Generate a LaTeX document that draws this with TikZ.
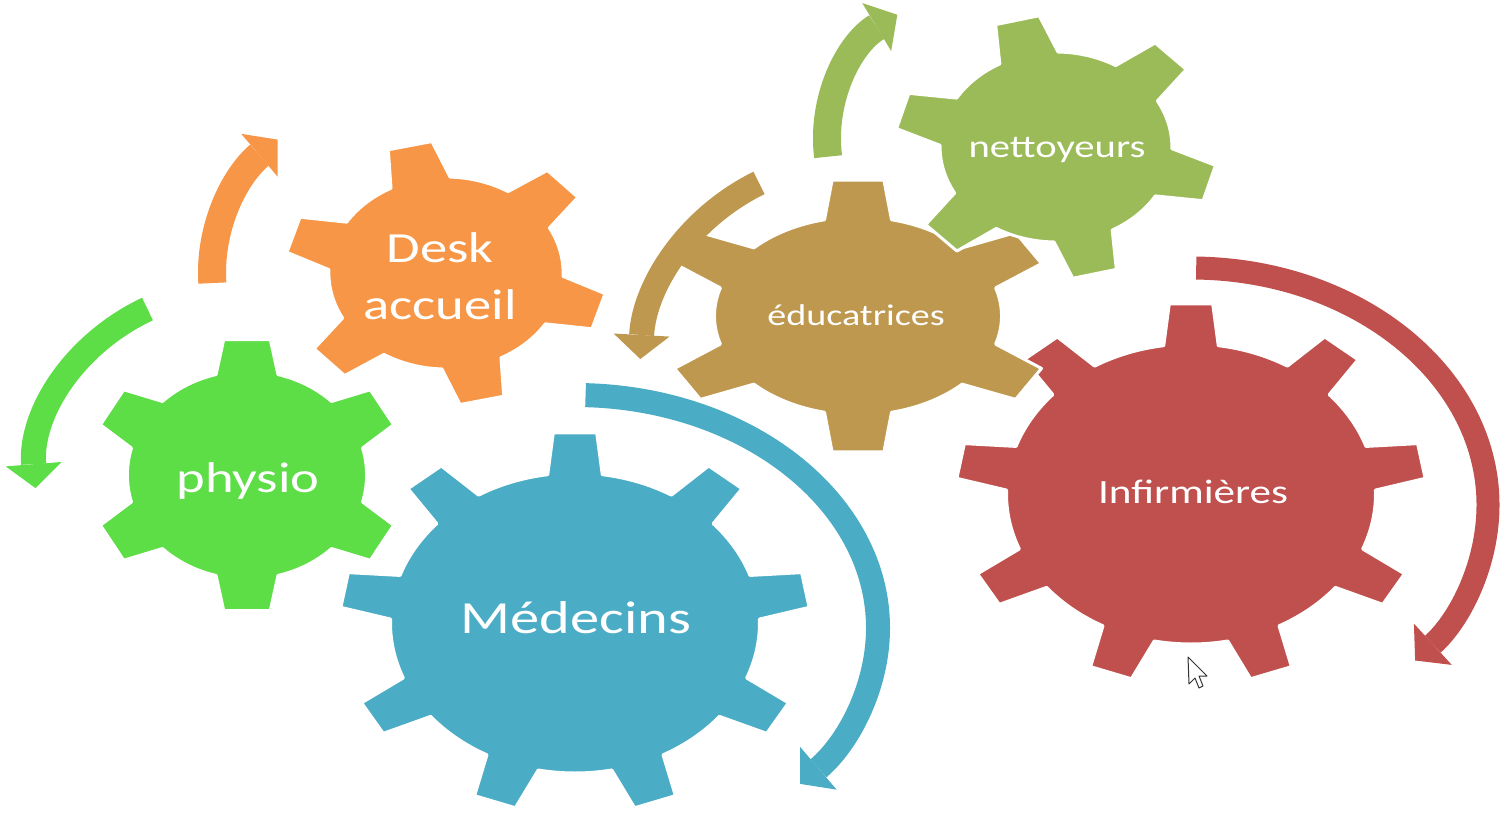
\documentclass[tikz,border=0pt]{standalone}
\usepackage{fontspec}
\setmainfont{Carlito}
\usepackage{graphicx}
\usetikzlibrary{arrows.meta}
\definecolor{cphysio}{RGB}{93,221,70}
\definecolor{cdesk}{RGB}{247,150,70}
\definecolor{cmed}{RGB}{75,172,198}
\definecolor{cinf}{RGB}{192,80,77}
\definecolor{cnet}{RGB}{155,187,89}
\definecolor{cedu}{RGB}{191,152,80}
\newcommand\sx[1]{\scalebox{1.27}[1]{#1}}
% #1 colour, #2 centre, #3 xscale, #4 teeth, #5 start angle, #6 tip radius, #7 body radius, #8 half tip angle, #9 half base angle
\newcommand\drawgear[9]{%
  \pgfmathsetmacro\gstep{360/#4}%
  \begin{scope}[shift={#2}, xscale=#3]
    \fill[#1, draw=white, line width=3pt, line join=round]
      ({#5-#9}:#7)
      \foreach \k in {1,...,#4}{
        -- ({#5+(\k-1)*\gstep-#8}:#6)
        -- ({#5+(\k-1)*\gstep+#8}:#6)
        -- ({#5+(\k-1)*\gstep+#9}:#7)
        arc[start angle={#5+(\k-1)*\gstep+#9}, end angle={#5+\k*\gstep-#9}, radius=#7]
      } -- cycle;
  \end{scope}}
\tikzset{
  band/.style={line width=#1pt, -{Triangle[width=56pt,length=24pt,line width=0pt]}},
  lbl/.style={text=white, inner sep=0pt, anchor=base}
}
\begin{document}
\begin{tikzpicture}[x=1pt, y=-1pt]
\useasboundingbox (0,0) rectangle (1507,812);
\fill[white] (0,0) rectangle (1507,812);
% gears
\drawgear{cmed}{(575,623)}{1.23}{9}{-90}{191}{150}{5.3}{8.5}
\drawgear{cphysio}{(247,475)}{1.15}{6}{90}{137}{104}{8.5}{15}
\drawgear{cdesk}{(446,273)}{1.22}{6}{-43}{132}{96}{8}{15}
\drawgear{cinf}{(1191,494)}{1.23}{9}{-90}{191}{150}{5.3}{8.5}
\drawgear{cedu}{(858,316)}{1.45}{6}{90}{137}{99}{7.5}{13.5}
\drawgear{cnet}{(1056,147)}{1.22}{6}{-44}{132}{95}{8}{15}
% rotation arrows
\draw[cdesk, band=28] ({446+234*cos(-183)},{273+192*sin(-183)})
  arc[start angle=-183, end angle=-136, x radius=234, y radius=192];
\draw[cphysio, band=25] ({247+212*cos(-118)},{475+188*sin(-118)})
  arc[start angle=-118, end angle=-184, x radius=212, y radius=188];
\draw[cedu, band=25] ({858+218*cos(-117)},{370+210*sin(-117)})
  arc[start angle=-117, end angle=-177, x radius=218, y radius=210];
\draw[cnet, band=28] ({972+145*cos(-187)},{139+145*sin(-187)})
  arc[start angle=-187, end angle=-121, radius=145];
\draw[white, line width=31pt] ({575+303*cos(-88)},{628+233*sin(-88)})
  arc[start angle=-88, end angle=-30, x radius=303, y radius=233];
\draw[cmed, band=24] ({575+303*cos(-88)},{628+233*sin(-88)})
  arc[start angle=-88, end angle=42, x radius=303, y radius=233];
\draw[cinf, band=23] ({1191+297*cos(-89)},{505+237*sin(-89)})
  arc[start angle=-89, end angle=41, x radius=297, y radius=237];
% labels
\node[lbl, anchor=center, align=center, font=\fontsize{43}{57}\selectfont] (desk) at (440,276) {\sx{Desk}\\\sx{accueil}};
\node[lbl, font=\fontsize{43}{50}\selectfont] (physio) at (248,492) {\sx{physio}};
\node[lbl, font=\fontsize{46}{50}\selectfont] (medecins) at (576,633) {\sx{Médecins}};
\node[lbl, font=\fontsize{34}{40}\selectfont] (infirmieres) at (1193,503) {\sx{Infirmières}};
\node[lbl, font=\fontsize{30}{36}\selectfont] (educatrices) at (856,325) {\sx{éducatrices}};
\node[lbl, font=\fontsize{32}{38}\selectfont] (nettoyeurs) at (1057,157) {\sx{nettoyeurs}};
% mouse pointer
\draw[fill=white, draw=black!80, line width=1pt, line join=round]
  (1188,657) -- (1189,684) -- (1195,678) -- (1199,688) -- (1203,686) -- (1199,676) -- (1207,676) -- cycle;
\end{tikzpicture}
\end{document}
